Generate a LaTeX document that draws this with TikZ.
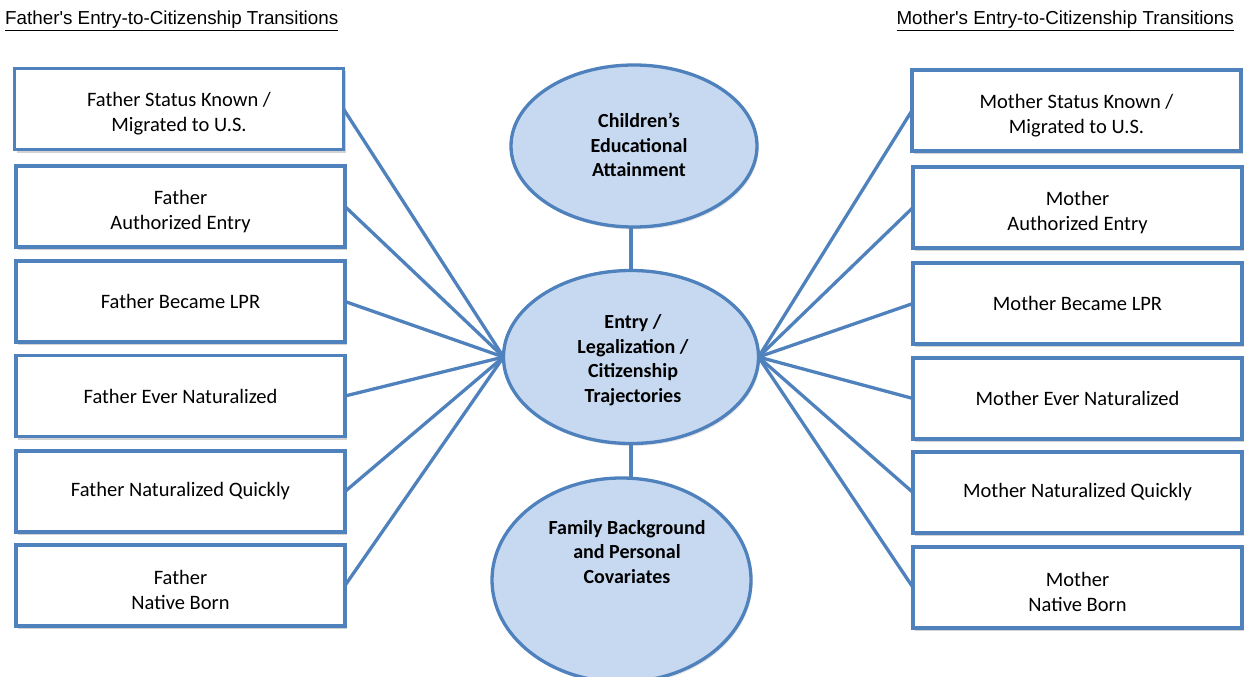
\documentclass[tikz,border=0pt]{standalone}
\usepackage{fontspec}
\setmainfont{Carlito}
\newfontfamily\arialf{Liberation Sans}
\usetikzlibrary{shapes.geometric,shadows}
\definecolor{lineblue}{HTML}{4F81BD}
\definecolor{fillblue}{HTML}{C6D9F1}
\newcommand{\topstrut}{\rule{0pt}{24pt}}
\begin{document}
\begin{tikzpicture}[x=1pt,y=-1pt,
  boxtext/.style={font=\fontsize{20.5}{25}\selectfont, align=center},
  vbox/.style={draw=lineblue, line width=3.3pt, fill=white, minimum width=329pt, minimum height=81pt, inner sep=0pt, outer sep=0pt,
    drop shadow={opacity=0.35, shadow xshift=2pt, shadow yshift=-3pt}, boxtext},
  oval/.style={ellipse, draw=lineblue, line width=3.3pt, fill=fillblue, inner sep=0pt, outer sep=0pt,
    drop shadow={opacity=0.2, shadow xshift=1.5pt, shadow yshift=-2.5pt}},
  ovaltext/.style={font=\bfseries\fontsize{20}{24.5}\selectfont, align=center},
  conn/.style={draw=lineblue, line width=3.3pt},
  title/.style={font=\arialf\fontsize{18.8}{22}\selectfont, inner sep=0pt}
]
\useasboundingbox (0,0) rectangle (1247,677);

\node[title, anchor=base west] (tl) at (5,25) {\underline{Father's Entry-to-Citizenship Transitions}};
\node[title, anchor=base east] (tr) at (1234,25) {\underline{Mother's Entry-to-Citizenship Transitions}};

% ellipses
\node[oval, minimum width=246pt, minimum height=162pt] (top) at (634,146) {};
\node[oval, minimum width=255pt, minimum height=173pt] (mid) at (631,357) {};
\node[oval, minimum width=259pt, minimum height=204pt] (bot) at (621.5,580) {};
\node[ovaltext] (toptxt) at (639,145) {Children's\\Educational\\Attainment};
\node[ovaltext] (midtxt) at (633,360) {Entry /\\Legalization /\\Citizenship\\Trajectories};
\node[ovaltext] (bottxt) at (627,552) {Family Background\\and Personal\\Covariates};

% left boxes
\node[vbox] (f1) at (179,109) {\topstrut Father Status Known /\\Migrated to U.S.};
\node[vbox] (f2) at (180.5,206.5) {\topstrut Father\\Authorized Entry};
\node[vbox] (f3) at (180.5,301.5) {Father Became LPR};
\node[vbox] (f4) at (180.5,396) {Father Ever Naturalized};
\node[vbox] (f5) at (180.5,491.5) {Father Naturalized Quickly};
\node[vbox] (f6) at (180.5,585.5) {\topstrut Father\\Native Born};

% right boxes
\node[vbox] (m1) at (1076.5,110.5) {\topstrut Mother Status Known /\\Migrated to U.S.};
\node[vbox] (m2) at (1077.5,207.5) {\topstrut Mother\\Authorized Entry};
\node[vbox] (m3) at (1077.5,303.5) {Mother Became LPR};
\node[vbox] (m4) at (1077.5,398.5) {Mother Ever Naturalized};
\node[vbox] (m5) at (1077.5,492.5) {Mother Naturalized Quickly};
\node[vbox] (m6) at (1077.5,587.5) {\topstrut Mother\\Native Born};

% connectors
\foreach \n in {f1,f2,f3,f4,f5,f6} \draw[conn] (\n.east) -- (mid.west);
\foreach \n in {m1,m2,m3,m4,m5,m6} \draw[conn] (\n.west) -- (mid.east);
\coordinate (topin) at ([yshift=1pt]top.south -| mid.north);
\draw[conn] (topin) -- (mid.north);
\coordinate (botin) at ([yshift=1pt]bot.north -| mid.south);
\draw[conn] (mid.south) -- (botin);
\end{tikzpicture}
\end{document}
